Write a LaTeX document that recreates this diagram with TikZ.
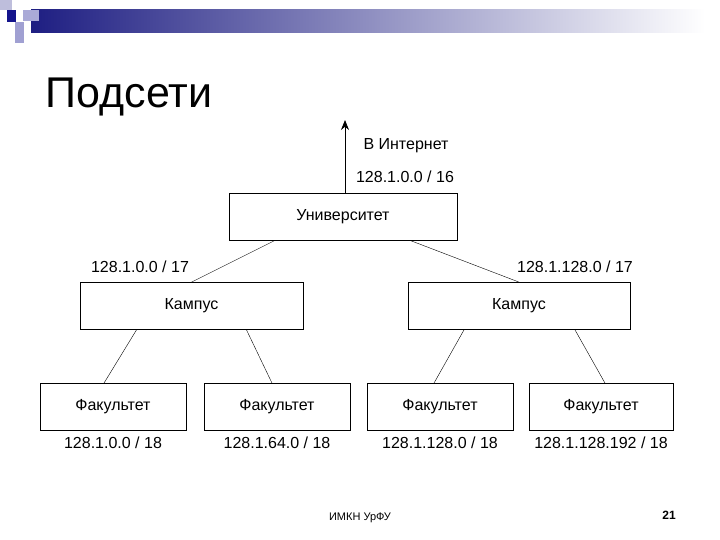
\documentclass[tikz,border=0pt]{standalone}
\usepackage{fontspec}
\setmainfont{Liberation Sans}
\usetikzlibrary{arrows.meta}
\definecolor{bardark}{RGB}{30,30,130}
\definecolor{sqa}{RGB}{190,190,220}
\definecolor{sqb}{RGB}{170,170,215}
\definecolor{sqc}{RGB}{20,20,140}
\definecolor{sqd}{RGB}{160,160,210}
\begin{document}
\begin{tikzpicture}[x=1pt,y=-1pt,
  box/.style={draw,thick,minimum height=47pt,inner sep=0pt},
  lbl/.style={font=\fontsize{16}{18}\selectfont},
  ln/.style={thin}]
\useasboundingbox (0,0) rectangle (720,540);
\shade[left color=bardark, right color=white] (31,10) rectangle (705,33);
\fill[sqa] (0,0) rectangle (12,10);
\fill[sqb] (23,10) rectangle (39,21);
\fill[sqc] (7,10) rectangle (16,22);
\fill[sqd] (15,22) rectangle (24,43);
\node[anchor=base west,font=\fontsize{43}{47}\selectfont] (title) at (42,108) {Подсети};
\node[box,minimum width=228pt] (uni) at (343,216.5) {\fontsize{16}{18}\selectfont Университет};
\node[box,minimum width=223pt] (c1) at (191.5,306) {\fontsize{16}{18}\selectfont Кампус};
\node[box,minimum width=222pt] (c2) at (519,306) {\fontsize{16}{18}\selectfont Кампус};
\foreach \n/\x/\w in {f1/113/146,f2/277/146,f3/440/146,f4/601/144}
  \node[box,minimum width=\w pt] (\n) at (\x,407) {\fontsize{16}{18}\selectfont Факультет};
\coordinate (top) at (345,120);
\draw[thick,-{Stealth[length=10pt,width=8pt]}] (uni.north -| top) -- (top);
\node[lbl,anchor=west] (inet) at (360,146) {В Интернет};
\node[lbl] (a16) at (405,177) {128.1.0.0 / 16};
\node[lbl] (a17a) at (140,267) {128.1.0.0 / 17};
\node[lbl] (a17b) at (575,267) {128.1.128.0 / 17};
\draw[ln] ([xshift=-68pt]uni.south) -- (c1.north);
\draw[ln] ([xshift=67pt]uni.south) -- (c2.north);
\draw[ln] ([xshift=-55pt]c1.south) -- ([xshift=-9pt]f1.north);
\draw[ln] ([xshift=55pt]c1.south) -- ([xshift=-5pt]f2.north);
\draw[ln] ([xshift=-55pt]c2.south) -- ([xshift=-6pt]f3.north);
\draw[ln] ([xshift=56pt]c2.south) -- ([xshift=4pt]f4.north);
\node[lbl] (b1) at (113,443) {128.1.0.0 / 18};
\node[lbl] (b2) at (277,443) {128.1.64.0 / 18};
\node[lbl] (b3) at (440,443) {128.1.128.0 / 18};
\node[lbl] (b4) at (601,443) {128.1.128.192 / 18};
\node[font=\fontsize{11}{13}\selectfont] (foot) at (360,518) {ИМКН УрФУ};
\node[font=\bfseries\fontsize{12}{14}\selectfont] (pg) at (669,515) {21};
\end{tikzpicture}
\end{document}
